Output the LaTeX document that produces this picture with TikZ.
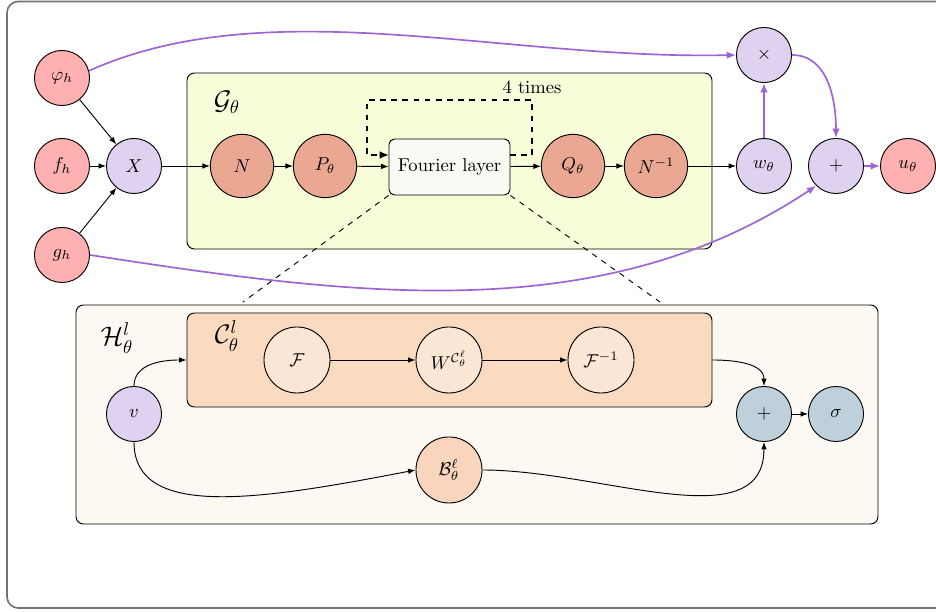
\documentclass[tikz,border=0pt]{standalone}
\usepackage{amsmath,amssymb}
\usetikzlibrary{arrows.meta,calc}
\definecolor{redn}{RGB}{255,176,176}
\definecolor{purn}{RGB}{223,210,240}
\definecolor{salm}{RGB}{234,168,146}
\definecolor{gfill}{RGB}{247,252,217}
\definecolor{ffill}{RGB}{251,249,243}
\definecolor{hfill}{RGB}{252,249,242}
\definecolor{cfill}{RGB}{250,219,192}
\definecolor{cnode}{RGB}{252,230,214}
\definecolor{bnode}{RGB}{248,213,188}
\definecolor{bluen}{RGB}{190,208,220}
\definecolor{purl}{RGB}{155,100,215}
\tikzset{
  circ/.style={circle,draw,line width=0.5pt,minimum size=29.6pt,inner sep=0pt},
  bigc/.style={circ,minimum size=34pt},
  bigg/.style={circ,minimum size=35.5pt},
  arr/.style={-{Latex[length=4pt,width=3pt]},line width=0.5pt},
  parr/.style={-{Latex[length=5pt,width=4pt]},line width=0.9pt,draw=purl},
  boxst/.style={draw,rounded corners=4pt,line width=0.5pt},
}
\begin{document}
\begin{tikzpicture}[x=0.5375pt,y=-0.5375pt]
\useasboundingbox (0,0) rectangle (936,612);
\draw[gray!90!black,line width=0.9pt,rounded corners=6pt] (7,1.5) rectangle (980,608);
% G box
\node[boxst,fill=gfill,minimum width=525*0.5375pt,minimum height=176*0.5375pt,inner sep=0pt] (G) at (449.5,161) {};
\node at (227,102) {\Large $\mathcal{G}_\theta$};
% H box
\node[boxst,fill=hfill,minimum width=802*0.5375pt,minimum height=219*0.5375pt,inner sep=0pt] (H) at (477,414.5) {};
\node at (117,338) {\Large $\mathcal{H}^l_\theta$};
% C box
\node[boxst,fill=cfill,minimum width=525*0.5375pt,minimum height=94*0.5375pt,inner sep=0pt] (C) at (449.5,360) {};
\node at (227,336) {\Large $\mathcal{C}^l_\theta$};
% top row
\node[circ,fill=redn] (phi) at (62,78) {$\varphi_h$};
\node[circ,fill=redn] (f) at (62,166) {$f_h$};
\node[circ,fill=redn] (g) at (62,255) {$g_h$};
\node[circ,fill=purn] (X) at (134,166) {$X$};
\node[bigc,fill=salm] (N) at (242,166) {$N$};
\node[bigc,fill=salm] (P) at (325,166) {$P_\theta$};
\node[draw,rounded corners=3pt,fill=ffill,line width=0.5pt,minimum width=121*0.5375pt,minimum height=56*0.5375pt] (FL) at (449.5,167) {Fourier layer};
\node[bigc,fill=salm] (Q) at (573,166) {$Q_\theta$};
\node[bigc,fill=salm] (Ni) at (656,166) {$N^{-1}$};
\node[circ,fill=purn] (w) at (764,166) {$w_\theta$};
\node[circ,fill=purn] (times) at (764,55) {$\times$};
\node[circ,fill=purn] (plus) at (836,166) {$+$};
\node[circ,fill=redn] (u) at (908,166) {$u_\theta$};
\draw[arr] (phi) -- (X);
\draw[arr] (f) -- (X);
\draw[arr] (g) -- (X);
\draw[arr] (X) -- (N);
\draw[arr] (N) -- (P);
\draw[arr] (P) -- (FL);
\draw[arr] (FL) -- (Q);
\draw[arr] (Q) -- (Ni);
\draw[arr] (Ni) -- (w);
% dashed loop
\coordinate (lo1) at (510,155);
\coordinate (lo2) at (389,155);
\draw[dashed,line width=0.8pt,-{Latex[length=5pt,width=4pt]}] (lo1) -- (532,155) -- (532,100) -- (367,100) -- (367,155) -- (lo2);
\node (four) at (532,87) {4 times};
% purple
\draw[parr] (phi.15) .. controls (270,-10) and (500,60) .. (times.west);
\draw[parr] (w) -- (times);
\draw[parr] (times.east) to[out=0,in=90] (plus.north);
\draw[parr] (g.east) .. controls (350,295) and (600,330) .. (plus.225);
\draw[parr] (plus) -- (u);
% zoom dashed lines
\coordinate (z1) at (243,302);
\coordinate (z2) at (660,302);
\draw[dashed,line width=0.5pt] (FL.south west) -- (z1);
\draw[dashed,line width=0.5pt] (FL.south east) -- (z2);
% lower
\node[bigg,fill=cnode] (F) at (297,360) {$\mathcal{F}$};
\node[bigg,fill=cnode] (W) at (449,360) {$W^{\mathcal{C}^\ell_\theta}$};
\node[bigg,fill=cnode] (Fi) at (601,360) {$\mathcal{F}^{-1}$};
\node[circ,fill=purn] (v) at (134,414) {$v$};
\node[circ,fill=bluen] (p2) at (764,414) {$+$};
\node[circ,fill=bluen] (sig) at (836,414) {$\sigma$};
\node[bigg,fill=bnode] (B) at (449,470) {$\mathcal{B}^\ell_\theta$};
\draw[arr] (F) -- (W);
\draw[arr] (W) -- (Fi);
\draw[arr] (p2) -- (sig);
\draw[arr] (v.north) to[out=90,in=180] (C.west);
\draw[arr] (C.east) to[out=0,in=90] (p2.north);
\draw[arr] (v.south) .. controls (134,520) and (260,500) .. (B.west);
\draw[arr] (B.east) .. controls (600,470) and (764,540) .. (p2.south);
\end{tikzpicture}
\end{document}
